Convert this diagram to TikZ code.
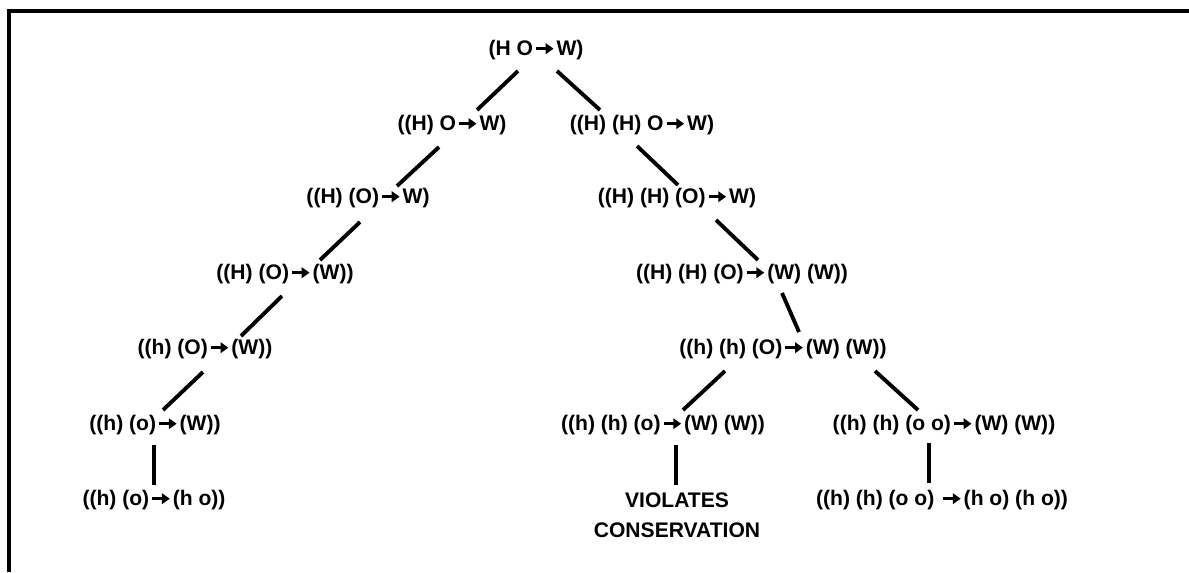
\documentclass[tikz,border=0pt]{standalone}
\usepackage{fontspec}
\setmainfont{Liberation Sans}
\usetikzlibrary{arrows.meta}

\newcommand{\yields}{\kern1pt\tikz[baseline=-0.32em]\draw[line width=1.4pt,-{Triangle[length=4.5pt,width=6pt]}] (0pt,0pt) -- (10pt,0pt);\kern1pt}

\begin{document}
\begin{tikzpicture}[x=0.02cm,y=-0.02cm,
  state/.style={font=\fontsize{12}{17}\selectfont\bfseries, inner sep=0pt, align=center},
  link/.style={line width=2.2pt},
  frame/.style={line width=2.4pt}]
\useasboundingbox (0,0) rectangle (1189,572);
\draw[frame] (9,572) -- (9,11) -- (1189,11);

% the tree
\node[state] (root) at (536,50) {(H O\yields W)};
\node[state] (l1) at (452,125) {((H) O\yields W)};
\node[state] (r1) at (642,125) {((H) (H) O\yields W)};
\node[state] (l2) at (368,198) {((H) (O)\yields W)};
\node[state] (r2) at (677,198) {((H) (H) (O)\yields W)};
\node[state] (l3) at (285,274) {((H) (O)\yields (W))};
\node[state] (r3) at (742,274) {((H) (H) (O)\yields (W) (W))};
\node[state] (l4) at (205,349) {((h) (O)\yields (W))};
\node[state] (r4) at (783,349) {((h) (h) (O)\yields (W) (W))};
\node[state] (l5) at (155,425) {((h) (o)\yields (W))};
\node[state] (m5) at (663,425) {((h) (h) (o)\yields (W) (W))};
\node[state] (s5) at (944,425) {((h) (h) (o o)\yields (W) (W))};
\node[state] (l6) at (154,500) {((h) (o)\yields (h o))};
\node[state] (viol) at (677,515) {VIOLATES\\CONSERVATION};
\node[state] (s6) at (942,500) {((h) (h) (o o) \yields (h o) (h o))};

\draw[link] ([shift={(-18,21)}]root.center) -- ([shift={(25,-15)}]l1.center);
\draw[link] ([shift={(21,21)}]root.center) -- ([shift={(-42,-15)}]r1.center);
\draw[link] ([shift={(-13,22)}]l1.center) -- ([shift={(29,-12)}]l2.center);
\draw[link] ([shift={(-8,24)}]l2.center) -- ([shift={(35,-14)}]l3.center);
\draw[link] ([shift={(-3,22)}]l3.center) -- ([shift={(36,-13)}]l4.center);
\draw[link] ([shift={(-2,23)}]l4.center) -- ([shift={(8,-15)}]l5.center);
\draw[link] ([shift={(-1,20)}]l5.center) -- ([shift={(0,-15)}]l6.center);
\draw[link] ([shift={(-5,21)}]r1.center) -- ([shift={(1,-13)}]r2.center);
\draw[link] ([shift={(39,22)}]r2.center) -- ([shift={(16,-14)}]r3.center);
\draw[link] ([shift={(40,19)}]r3.center) -- ([shift={(16,-17)}]r4.center);
\draw[link] ([shift={(-58,22)}]r4.center) -- ([shift={(20,-15)}]m5.center);
\draw[link] ([shift={(92,22)}]r4.center) -- ([shift={(-26,-15)}]s5.center);
\draw[link] ([shift={(13,20)}]m5.center) -- ([shift={(-1,-30)}]viol.center);
\draw[link] ([shift={(-15,18)}]s5.center) -- ([shift={(-13,-17)}]s6.center);
\end{tikzpicture}
\end{document}
